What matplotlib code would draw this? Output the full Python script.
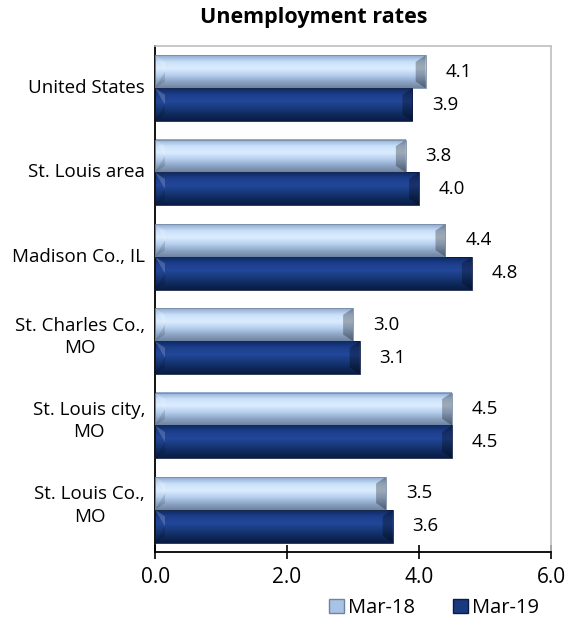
import matplotlib
matplotlib.use('Agg')
import matplotlib.pyplot as plt
import numpy as np
from matplotlib.patches import Patch, Polygon
from matplotlib.colors import LinearSegmentedColormap

plt.rcParams['font.family'] = ['Open Sans', 'DejaVu Sans']

categories = ['United States', 'St. Louis area', 'Madison Co., IL',
              'St. Charles Co.,\nMO', 'St. Louis city,\nMO', 'St. Louis Co.,\nMO']
mar18 = [4.1, 3.8, 4.4, 3.0, 4.5, 3.5]
mar19 = [3.9, 4.0, 4.8, 3.1, 4.5, 3.6]
series_names = ['Mar-18', 'Mar-19']

# gradient stops top -> bottom for the "cylinder" look
light_stops = ['#8ea9cf', '#c9e0fa', '#dcecfd', '#b9d2f0', '#8fa7c8', '#6f849f']
dark_stops = ['#0e2a66', '#1d3f8c', '#23479a', '#183a7c', '#0f2a5e', '#0a1c44']
light_cmap = LinearSegmentedColormap.from_list('light', light_stops)
dark_cmap = LinearSegmentedColormap.from_list('dark', dark_stops)

fig = plt.figure(figsize=(5.68, 6.3), dpi=100)
ax = fig.add_axes([0.273, 0.124, 0.697, 0.803])

n = len(categories)
y = np.arange(n)[::-1].astype(float)
h = 0.39

bars18 = ax.barh(y + h / 2, mar18, height=h, color='none')
bars19 = ax.barh(y - h / 2, mar19, height=h, color='none')

grad = np.linspace(0, 1, 64).reshape(-1, 1)
bev = 0.15

def fancy(bars, cmap, edge):
    for b in bars:
        x0, y0 = b.get_x(), b.get_y()
        w, hh = b.get_width(), b.get_height()
        ax.imshow(grad, cmap=cmap, aspect='auto', origin='upper',
                  extent=(x0, x0 + w, y0, y0 + hh), zorder=2, interpolation='bicubic')
        yc = y0 + hh / 2
        top, bot = y0 + hh, y0
        ax.add_patch(Polygon([(x0, top), (x0 + bev, top - hh * 0.2), (x0 + bev, yc)],
                             closed=True, fc='white', alpha=0.18, lw=0, zorder=3))
        ax.add_patch(Polygon([(x0, bot), (x0 + bev, bot + hh * 0.2), (x0 + bev, yc)],
                             closed=True, fc='black', alpha=0.12, lw=0, zorder=3))
        ax.add_patch(Polygon([(x0 + w, top), (x0 + w - bev, top - hh * 0.2),
                              (x0 + w - bev, bot + hh * 0.2), (x0 + w, bot)],
                             closed=True, fc='black', alpha=0.28, lw=0, zorder=3))
        ax.add_patch(plt.Rectangle((x0, y0), w, hh, fc='none', ec=edge, lw=0.6, zorder=4))

fancy(bars18, light_cmap, '#7a8ca5')
fancy(bars19, dark_cmap, '#0a1a40')

for b, v in zip(bars18, mar18):
    ax.text(v + 0.3, b.get_y() + b.get_height() / 2, f'{v:.1f}', va='center', ha='left', fontsize=13.5)
for b, v in zip(bars19, mar19):
    ax.text(v + 0.3, b.get_y() + b.get_height() / 2, f'{v:.1f}', va='center', ha='left', fontsize=13.5)

ax.set_xlim(0, 6)
ax.set_ylim(-0.5, n - 0.5)
ax.set_xticks([0, 2, 4, 6])
ax.set_xticklabels(['0.0', '2.0', '4.0', '6.0'], fontsize=15)
ax.set_yticks([])
ax.tick_params(axis='x', direction='inout', length=10, width=1.2, pad=6)

# category labels, multi-line ones sit a bit higher like in the original
for yi, cat in zip(y, categories):
    dy = 0.05 if '\n' in cat else 0.0
    ax.text(-0.025, yi + dy, cat, transform=ax.get_yaxis_transform(), ha='right', va='center',
            multialignment='center', fontsize=13.5, linespacing=1.3)

for s in ['top', 'right']:
    ax.spines[s].set_color('#bfbfbf')
    ax.spines[s].set_linewidth(1.2)
for s in ['left', 'bottom']:
    ax.spines[s].set_color('black')
    ax.spines[s].set_linewidth(1.3)

fig.text(314 / 568, 1 - 18 / 630, 'Unemployment rates', fontsize=15.5, fontweight='bold',
         ha='center', va='center')

handles = [Patch(facecolor='#a9c3e6', edgecolor='#6f849f', label=series_names[0]),
           Patch(facecolor='#1a3a80', edgecolor='#0a1c44', label=series_names[1])]
fig.legend(handles=handles, loc='center', bbox_to_anchor=(434 / 568, 1 - 608 / 630), ncol=2,
           frameon=False, fontsize=14.5, handlelength=0.75, handleheight=0.75, handletextpad=0.2,
           columnspacing=1.9)

fig.savefig('out.png', dpi=100)
